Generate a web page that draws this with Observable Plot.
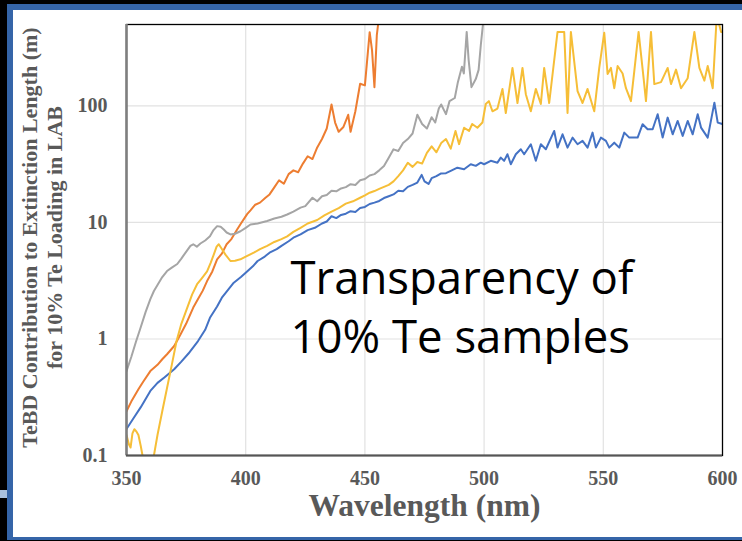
<!DOCTYPE html>
<html>
<head>
<meta charset="utf-8">
<script src="https://cdn.jsdelivr.net/npm/d3@7"></script>
<script src="https://cdn.jsdelivr.net/npm/@observablehq/plot@0.6"></script>
<style>
  html, body { margin: 0; padding: 0; background: #000; }
  #page { position: relative; width: 742px; height: 541px; overflow: hidden; background: #000; }
  #slide { position: absolute; left: 7px; top: 4px; right: 0; bottom: 1px; background: #fff;
           border-top: 6px solid #3565a8; border-left: 6px solid #3565a8; border-bottom: 3px solid #3565a8; }
  #tab { position: absolute; left: 0; top: 490px; width: 7px; height: 8px; background: #a9c1de; }
  #chart { position: absolute; left: 0; top: 0; }
</style>
</head>
<body>
<div id="page">
  <div id="slide"></div>
  <div id="tab"></div>
  <div id="chart"></div>
</div>
<script>
// Axis ticks
const xTicks = [350, 400, 450, 500, 550, 600];
const yTicks = [0.1, 1, 10, 100];

// Gray sample
const grayNm = [350, 352, 354, 355.9, 358, 360, 361.5, 363, 365, 367, 369, 371.3, 373, 375, 376.8, 378, 379.5, 381, 383, 385,
  386.5, 388, 389.5, 390.8, 392, 393.6, 395.5, 397.8, 400, 402, 405, 409, 412, 415, 417.4, 420, 423, 425, 428, 430,
  432, 434, 436, 438, 440, 442, 444, 446, 448, 450, 452, 454, 456, 458, 460, 462, 464, 466, 468, 470,
  472, 474, 476, 478, 479.5, 481, 482, 484, 485.5, 487.7, 489, 490.7, 491.5, 492.7, 493.5, 494.7, 496.5, 497.7, 498.6, 499.6];
const grayVal = [0.53, 0.7, 0.95, 1.25, 1.7, 2.2, 2.58, 2.9, 3.4, 3.83, 4.1, 4.4, 4.9, 5.6, 6.3, 6.5, 6.2, 6.6, 7.0, 7.6,
  8.6, 9.3, 9.2, 8.7, 8.2, 7.9, 8.0, 8.4, 9.0, 9.6, 9.8, 10.3, 10.8, 11.2, 11.7, 12.4, 13.4, 13.8, 16.3, 15.2,
  16.8, 17.2, 18.7, 18.5, 19.6, 20.1, 21.3, 21.0, 23, 23.6, 25.3, 26, 28, 30.5, 36, 42.4, 41, 48, 52, 58,
  84, 70, 64, 80, 72, 95, 103, 85, 110, 117, 160, 217, 190, 432, 250, 145, 170, 204, 330, 520];

// Orange sample
const orangeNm = [350, 352, 355, 357, 360, 363, 365, 367, 370, 372.7, 375, 378, 380, 382, 383.8, 386, 388, 390, 392, 394,
  396.4, 398, 400.6, 402, 404, 406, 408.3, 410, 412, 414, 416, 418, 420, 422, 424, 426, 428, 430, 432, 434,
  436, 437.5, 439, 441, 443, 444, 446, 448, 450, 452, 453, 454, 455, 456];
const orangeVal = [0.24, 0.29, 0.37, 0.43, 0.53, 0.6, 0.67, 0.74, 0.87, 1.1, 1.35, 1.86, 2.2, 2.6, 3.14, 3.8, 4.83, 5.4, 6.5, 7.2,
  8.7, 9.8, 11.8, 12.7, 14.2, 14.8, 16.3, 17.4, 20, 23, 21.5, 26, 28, 27, 32, 37, 35, 44, 52, 64,
  103, 72, 60, 66, 84, 60, 90, 155, 150, 430, 300, 145, 405, 600];

// Yellow sample
const yellowNm = [350, 351, 351.7, 352.5, 353.3, 354.2, 355, 356, 356.6, 357.5, 358.5, 360, 361.5, 363, 365, 367, 369, 371, 373, 375.5,
  377.5, 379.6, 381.5, 383.8, 385.3, 386.6, 387.8, 388.7, 389.8, 391.5, 393.6, 395.5, 397.8, 400, 403.4, 406, 409, 412, 415, 417.4,
  420, 423, 426, 430, 433, 436, 439, 442, 445, 448, 450, 452, 454, 456, 458, 460, 462, 464, 466, 468,
  470, 472, 474, 476, 478, 480, 482, 484, 486, 488, 489.5, 491.6, 493.7, 495, 497.2, 499.3, 500.7, 502, 503.5, 505.6,
  507.7, 509.1, 511.9, 514, 516.1, 517.5, 519.6, 521.7, 523.8, 525.2, 527.3, 530.8, 533.6, 535, 536.4, 539.2, 541.3, 543.4, 546.2, 548.3,
  550.4, 551.8, 553.2, 554.6, 556, 558.1, 559.5, 561.6, 563, 564.8, 566.9, 567.9, 570, 571.4, 574.2, 577, 578.4, 580.5, 582.6, 585.4,
  588.2, 590.3, 592.4, 593.8, 595.9, 597.6, 599.4, 600];
const yellowVal = [0.15, 0.125, 0.117, 0.155, 0.168, 0.16, 0.15, 0.12, 0.103, 0.08, 0.06, 0.06, 0.1, 0.15, 0.24, 0.38, 0.6, 0.96, 1.35, 1.86,
  2.4, 2.95, 3.3, 3.8, 4.5, 5.3, 6.2, 6.5, 6.0, 5.3, 4.67, 4.7, 4.83, 5.1, 5.5, 5.9, 6.3, 6.8, 7.2, 7.6,
  8.3, 9.0, 9.8, 10.5, 11.5, 12.4, 13.3, 14.5, 15.2, 16.3, 17.1, 18, 18.6, 19.4, 20.2, 21, 22.5, 25, 28, 32.5,
  30, 33, 32, 39.6, 45, 40, 48, 52, 43, 61, 47, 65, 61, 70, 65, 72, 104, 110, 90, 95,
  140, 87, 212, 106, 212, 126, 90, 140, 104, 212, 106, 432, 432, 87, 432, 134, 106, 140, 90, 212,
  425, 188, 212, 142, 220, 190, 142, 110, 199, 432, 173, 110, 432, 154, 160, 212, 154, 205, 142, 173,
  432, 212, 165, 220, 142, 600, 432, 432];

// Blue sample
const blueNm = [350, 353, 356, 360, 363, 366, 370, 373, 376, 380, 383, 385, 388, 390, 393, 395, 398, 400, 403, 405,
  408, 410, 413, 415, 418, 420, 423, 426, 429, 432, 434, 436, 438, 440, 442, 444, 446, 448, 450, 452,
  454, 456, 458, 460, 462, 464, 466, 468, 470, 472, 473.8, 475, 476.7, 478, 480, 481.8, 484, 486, 488.8, 491.6,
  494.4, 496.5, 498.6, 500, 502.8, 505.6, 507, 508.4, 509.8, 511.2, 513.3, 515.4, 516.8, 519.6, 521.7, 523.8, 525.9, 529.4, 530.8, 532.9,
  535, 537.1, 539.2, 541.3, 543.4, 545.5, 546.9, 549, 551.1, 552.5, 554.6, 556.7, 558.8, 560.9, 564.4, 566.5, 568.6, 570.7, 572.8, 574.9,
  577, 579.1, 581.2, 583.3, 585.4, 587.5, 589.6, 591, 593.8, 596.6, 598, 600];
const blueVal = [0.169, 0.21, 0.26, 0.358, 0.42, 0.47, 0.55, 0.64, 0.75, 0.96, 1.2, 1.52, 1.9, 2.26, 2.7, 3.04, 3.4, 3.7, 4.2, 4.67,
  5.1, 5.5, 5.9, 6.3, 6.9, 7.4, 7.9, 8.6, 9.0, 9.8, 10.2, 11.3, 10.9, 11.6, 11.9, 12.5, 12.3, 13.3, 13.6, 14.4,
  14.8, 15.3, 16.2, 16.8, 17.4, 18.7, 18.5, 20.2, 21, 22, 25.6, 22.5, 21.4, 24, 25, 26.3, 26.5, 27.7, 29.5, 28.6,
  31.6, 30.6, 32.6, 31.6, 33.8, 32.6, 36, 33.8, 38.5, 31.6, 38.5, 42.5, 38.5, 46.9, 33.8, 46.9, 42.5, 61, 43.9, 57.1,
  43.9, 53.5, 46.9, 50.1, 43.9, 59, 43.9, 53.5, 50.1, 43.9, 48.4, 43.9, 59, 53.5, 53.5, 69.7, 63.1, 63.1, 84.9, 53.5,
  79.4, 57.1, 74.3, 55.3, 74.3, 57.1, 84.9, 65.2, 53.5, 106.7, 71.9, 70];

const serif = "'Liberation Serif', 'Times New Roman', serif";
const labelGray = "#595959";
const lineStyle = {strokeWidth: 2, clip: true};

const chart = Plot.plot({
  width: 742,
  height: 541,
  marginLeft: 126,
  marginRight: 20,
  marginTop: 24,
  marginBottom: 86,
  style: {background: "transparent", fontFamily: serif},
  x: {type: "linear", domain: [350, 600]},
  y: {type: "log", domain: [0.1, 500]},
  marks: [
    Plot.ruleX(xTicks.slice(1, -1), {stroke: "#e2e2e2", strokeWidth: 1.2}),
    Plot.ruleY(yTicks.slice(1), {stroke: "#e2e2e2", strokeWidth: 1.2}),
    Plot.axisX(xTicks, {tickSize: 0, tickPadding: 15, fontSize: 20, fontWeight: "bold", fill: labelGray, label: null}),
    Plot.axisY(yTicks, {tickSize: 0, tickPadding: 19, fontSize: 20, fontWeight: "bold", fill: labelGray, label: null,
      tickFormat: d3.format("~g")}),
    Plot.line(blueNm, {x: blueNm, y: blueVal, stroke: "#4472c4", ...lineStyle}),
    Plot.line(orangeNm, {x: orangeNm, y: orangeVal, stroke: "#ed7d31", ...lineStyle}),
    Plot.line(grayNm, {x: grayNm, y: grayVal, stroke: "#a5a5a5", ...lineStyle}),
    Plot.line(yellowNm, {x: yellowNm, y: yellowVal, stroke: "#f6be37", ...lineStyle}),
    Plot.frame({stroke: "#000", strokeWidth: 1.3}),
    Plot.ruleX([350], {stroke: "#7f7f7f", strokeWidth: 2.5}),
    Plot.ruleY([0.1], {stroke: "#555", strokeWidth: 2}),
    Plot.text(["Wavelength (nm)"], {frameAnchor: "bottom", dy: 60, lineAnchor: "bottom", textAnchor: "middle",
      fontSize: 31.5, fontWeight: "bold", fill: labelGray, fontFamily: serif}),
    Plot.text(["TeBD Contribution to Extinction Length (m)"], {frameAnchor: "left", dx: -89.5, dy: -2.5, rotate: -90,
      lineAnchor: "bottom", textAnchor: "middle", fontSize: 22, fontWeight: "bold", fill: labelGray, fontFamily: serif}),
    Plot.text(["for 10% Te Loading in LAB"], {frameAnchor: "left", dx: -64.5, dy: -2.5, rotate: -90,
      lineAnchor: "bottom", textAnchor: "middle", fontSize: 22, fontWeight: "bold", fill: labelGray, fontFamily: serif}),
    Plot.text(["Transparency of\n10% Te samples"], {frameAnchor: "top-left", dx: 164, dy: 328, lineAnchor: "bottom",
      textAnchor: "start", fontSize: 45.5, lineHeight: 59 / 45.5, fill: "#000", fontFamily: "'Open Sans', 'Noto Sans', sans-serif"})
  ]
});
document.getElementById("chart").appendChild(chart);
</script>
</body>
</html>
